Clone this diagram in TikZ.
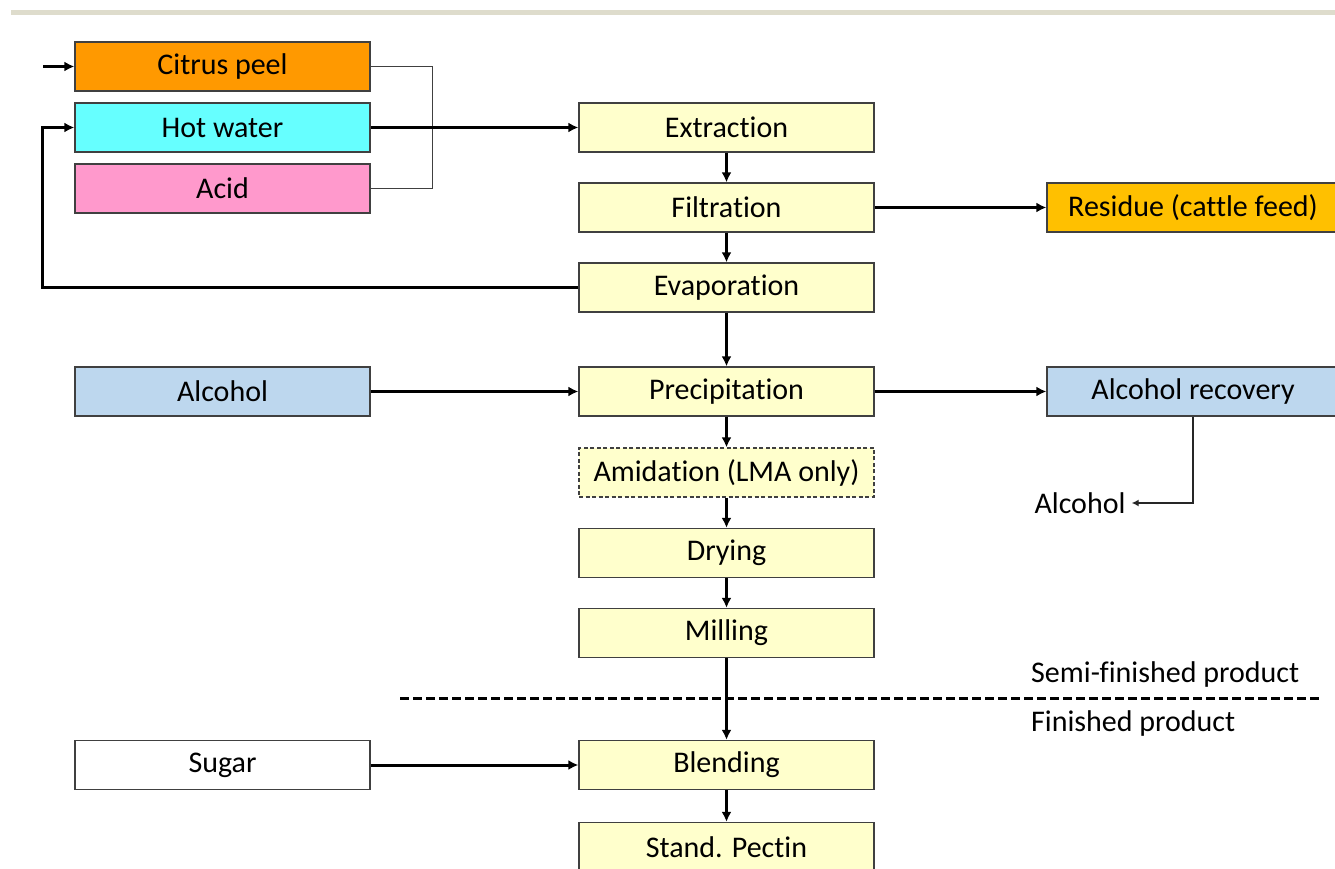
\documentclass[tikz,border=0pt]{standalone}
\usepackage{fontspec}
\setmainfont{Carlito}[Ligatures=NoCommon]
\usepackage[usenames,dvipsnames,x11names,rgb]{xcolor}
\usetikzlibrary{arrows.meta}

\definecolor{peelorange}{RGB}{255,153,0}
\definecolor{watercyan}{RGB}{102,255,255}
\definecolor{acidpink}{RGB}{255,153,204}
\definecolor{procyellow}{RGB}{255,255,204}
\definecolor{residuegold}{RGB}{255,192,0}
\definecolor{alcblue}{RGB}{189,215,238}
\definecolor{bandgray}{RGB}{222,220,204}

\begin{document}
\begin{tikzpicture}[x=1pt,y=1pt,
    box/.style={draw=black!75, line width=1.3pt, minimum width=295pt, minimum height=49pt, inner sep=0pt, font=\fontsize{30}{36}\selectfont},
    proc/.style={box, fill=procyellow},
    flow/.style={line width=3pt, -{Latex[length=10pt,width=10pt]}},
    thinflow/.style={line width=1.5pt, black!85, -{Latex[length=7pt,width=7pt]}},
    label/.style={inner sep=0pt, font=\fontsize{30}{36}\selectfont}]
        \useasboundingbox (0,0) rectangle (1335,868);
        \fill[bandgray] (11,853) rectangle (1335,858);

        % inputs
        \node[box, fill=peelorange] (peel) at (222.5,801.5) {Citrus peel};
        \node[box, fill=watercyan] (water) at (222.5,740.5) {Hot water};
        \node[box, fill=acidpink] (acid) at (222.5,679.5) {Acid};
        \node[box, fill=alcblue] (alcohol) at (222.5,476.5) {Alcohol};
        \node[box, fill=white] (sugar) at (222.5,103) {Sugar};

        % main line
        \node[proc] (extraction) at (726.5,740.5) {Extraction};
        \node[proc] (filtration) at (726.5,660.5) {Filtration};
        \node[proc] (evaporation) at (726.5,580.5) {Evaporation};
        \node[proc] (precipitation) at (726.5,476.5) {Precipitation};
        \node[proc, dash pattern=on 4pt off 2.5pt] (amidation) at (726.5,395.5) {Amidation (LMA only)};
        \node[proc] (drying) at (726.5,315) {Drying};
        \node[proc] (milling) at (726.5,235) {Milling};
        \node[proc] (blending) at (726.5,103) {Blending};
        \node[proc] (pectin) at (726.5,21) {Stand. Pectin};

        % outputs
        \node[box, fill=residuegold, minimum width=292pt] (residue) at (1193,660.5) {Residue (cattle feed)};
        \node[box, fill=alcblue, minimum width=292pt] (recovery) at (1193,476.5) {Alcohol recovery};
        \node[label] (alcout) at (1080,365) {Alcohol};
        \node[label, anchor=west] (semi) at (1031,193) {Semi-finished product};
        \node[label, anchor=west] (finished) at (1031,145) {Finished product};

        \coordinate (peelin) at (43,801.5);
        \coordinate (loop) at (42,580.5);
        \coordinate (cutleft) at (400,170);
        \coordinate (cutright) at (1320,170);

        % connectors
        \draw[flow] (peelin) -- (peel.west);
        \draw[line width=1.3pt, black!75] (peel.east) -- ++(62,0) |- (acid.east);
        \draw[flow] (water.east) -- (extraction.west);
        \draw[flow] (evaporation.west) -- (loop) |- (water.west);
        \draw[flow] (extraction) -- (filtration);
        \draw[flow] (filtration) -- (evaporation);
        \draw[flow] (evaporation) -- (precipitation);
        \draw[flow] (precipitation) -- (amidation);
        \draw[flow] (amidation) -- (drying);
        \draw[flow] (drying) -- (milling);
        \draw[flow] (milling) -- (blending);
        \draw[flow] (blending) -- (pectin);
        \draw[flow] (filtration.east) -- (residue.west);
        \draw[flow] (alcohol.east) -- (precipitation.west);
        \draw[flow] (precipitation.east) -- (recovery.west);
        \draw[flow] (sugar.east) -- (blending.west);
        \draw[thinflow] (recovery.south) |- ([xshift=6pt]alcout.east);
        \draw[line width=3pt, dash pattern=on 9pt off 4pt] (cutleft) -- (cutright);
    \end{tikzpicture}
\end{document}
